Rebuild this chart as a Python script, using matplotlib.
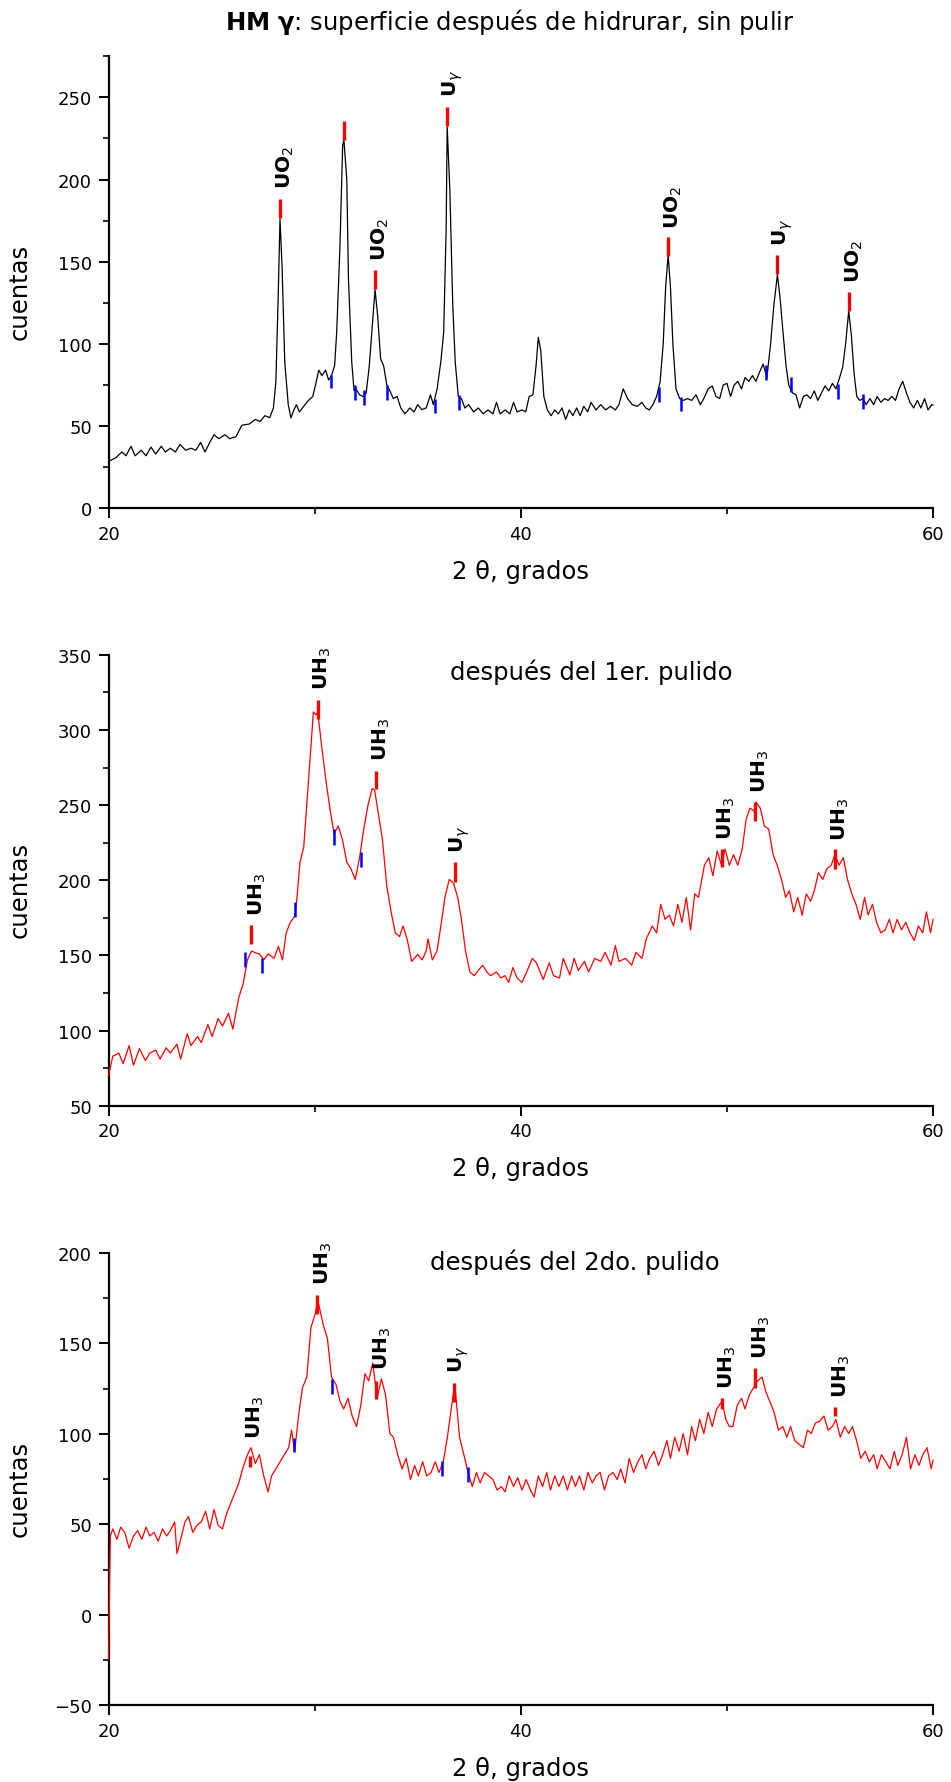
import matplotlib
matplotlib.use("Agg")
import matplotlib.pyplot as plt
from matplotlib.ticker import MultipleLocator

plt.rcParams['font.family'] = ['DejaVu Sans']
plt.rcParams['mathtext.fontset'] = 'dejavusans'

# ---------------- panel 1: sin pulir (black trace) ----------------
tt1 = [20.0, 20.35, 20.65, 20.85, 21.09, 21.29, 21.59, 21.82, 22.06, 22.29, 22.56, 22.76, 23.0, 23.24, 23.47, 23.74,
       24.0, 24.24, 24.47, 24.68, 24.91, 25.12, 25.35, 25.65, 25.88, 26.18, 26.47, 26.82, 27.12, 27.35, 27.59, 27.82,
       28.0, 28.12, 28.24, 28.32, 28.42, 28.55, 28.72, 28.85, 29.0, 29.12, 29.26, 29.47, 29.7, 29.91, 30.06, 30.2,
       30.35, 30.53, 30.68, 30.82, 30.97, 31.07, 31.23, 31.36, 31.42, 31.56, 31.64, 31.8, 31.91, 32.0, 32.18, 32.35,
       32.5, 32.65, 32.79, 32.93, 33.06, 33.2, 33.35, 33.5, 33.65, 33.82, 34.0, 34.18, 34.38, 34.62, 34.82, 35.0,
       35.2, 35.41, 35.62, 35.76, 35.94, 36.12, 36.26, 36.38, 36.43, 36.56, 36.7, 36.82, 36.97, 37.12, 37.29, 37.47,
       37.71, 37.94, 38.18, 38.41, 38.65, 38.82, 39.0, 39.24, 39.47, 39.65, 39.82, 40.06, 40.24, 40.41, 40.59, 40.74,
       40.85, 40.97, 41.12, 41.29, 41.47, 41.65, 41.82, 42.0, 42.18, 42.35, 42.53, 42.71, 42.88, 43.06, 43.24, 43.41,
       43.65, 43.88, 44.12, 44.35, 44.59, 44.76, 44.97, 45.18, 45.41, 45.65, 45.88, 46.06, 46.24, 46.41, 46.59, 46.76,
       46.91, 47.03, 47.15, 47.26, 47.38, 47.53, 47.71, 47.88, 48.09, 48.29, 48.5, 48.71, 48.88, 49.09, 49.29, 49.47,
       49.65, 49.82, 50.0, 50.18, 50.35, 50.53, 50.71, 50.88, 51.06, 51.24, 51.41, 51.59, 51.76, 51.94, 52.12, 52.28,
       52.45, 52.58, 52.72, 52.87, 53.0, 53.18, 53.35, 53.53, 53.71, 53.88, 54.06, 54.24, 54.41, 54.59, 54.76, 54.94,
       55.12, 55.29, 55.47, 55.62, 55.76, 55.91, 56.04, 56.17, 56.3, 56.45, 56.6, 56.76, 56.94, 57.12, 57.29, 57.47,
       57.65, 57.82, 58.0, 58.18, 58.35, 58.53, 58.71, 58.88, 59.06, 59.24, 59.41, 59.59, 59.76, 59.94, 60.0]
cts1 = [28.4, 30.7, 34.2, 31.9, 37.7, 31.9, 35.3, 31.9, 37.2, 33.0, 37.7, 34.2, 36.5, 34.2, 38.8, 35.3,
        36.5, 35.3, 40.0, 34.2, 40.0, 44.7, 42.3, 44.7, 42.3, 43.5, 50.5, 51.2, 54.0, 52.8, 56.3, 55.1,
        61, 77, 133, 176, 147, 89, 63, 55, 60, 63, 58.6, 62, 65.6, 68, 76, 84,
        80.7, 84, 78, 80.7, 86.9, 107, 160, 221, 224, 200, 140, 89, 71.7, 72.6, 69, 68,
        70, 86.5, 110, 133, 116.7, 91, 86.5, 75, 71.4, 66.7, 68, 61, 57.4, 61, 58.6, 63,
        60, 61, 69, 63, 72.6, 89, 107, 170, 232, 193.5, 124, 89, 68, 66.7, 61, 63,
        58.6, 61, 57.4, 59.8, 57.4, 64.4, 57.4, 59.8, 57.4, 64.4, 58.6, 59.8, 58.6, 68, 69, 86.5,
        104, 95.8, 68, 59.8, 56.3, 59.8, 57.4, 61, 54, 59.8, 56.3, 61, 56.3, 62, 58.6, 64.4,
        59.8, 63, 59.8, 62, 59.8, 63, 72.6, 66.7, 63, 62, 64.4, 61, 59.8, 63, 68, 77,
        100, 135, 154, 135, 100, 72.6, 66.7, 65.6, 66.7, 65.6, 69, 63, 66.7, 72.6, 74.4, 68,
        66.7, 74.9, 76, 68, 74.9, 77.2, 72.6, 79.5, 77.2, 80.7, 77.2, 83, 87.7, 79.5, 100, 123.7,
        142, 128, 107.4, 86.5, 74.9, 70.2, 69, 61, 68, 69, 66.7, 71.4, 65.6, 70.2, 74.4, 71.4,
        76, 72.6, 79.5, 86, 100, 120, 105, 81.9, 68, 65.6, 66.7, 63, 66.7, 63, 68, 64.4,
        66.7, 65.6, 68, 65.6, 72.6, 77.2, 70.2, 64.4, 61, 65.6, 61, 66.7, 59.8, 63, 62.8]

red1_x = [28.32, 31.42, 32.93, 36.43, 47.15, 52.45, 55.91]
red1_lo = [176.4, 224, 133.3, 232.7, 153.7, 142.4, 120.1]
red1_hi = [188, 235.7, 144.7, 244, 165.2, 154, 131.7]
blue1_x = [30.8, 31.98, 32.38, 33.5, 35.84, 37.0, 46.7, 47.78, 51.88, 53.1, 55.38, 56.62]
blue1_lo = [73, 65.6, 62.6, 65.6, 58, 59.5, 64.6, 58.9, 77.8, 70.7, 66.6, 60.1]
blue1_hi = [81, 75, 71.7, 75, 66.6, 68.7, 73.8, 67.7, 87.4, 79.9, 75.8, 69.7]
lab1_txt = ['UO$_2$', 'UO$_2$', 'U$_\\gamma$', 'UO$_2$', 'U$_\\gamma$', 'UO$_2$']
lab1_x = [28.32, 32.93, 36.43, 47.15, 52.45, 55.91]
lab1_y = [194.7, 151, 250.6, 170.7, 160, 137.8]

# ---------------- panel 2: 1er. pulido (red trace) ----------------
tt2 = [20.0, 20.21, 20.5, 20.71, 21.0, 21.21, 21.5, 21.79, 22.0, 22.29, 22.5, 22.79, 23.0, 23.32, 23.5, 23.82,
       24.0, 24.32, 24.5, 24.82, 25.03, 25.32, 25.53, 25.82, 26.03, 26.32, 26.53, 26.74, 26.94, 27.12, 27.32, 27.53,
       27.74, 28.03, 28.24, 28.44, 28.62, 28.82, 29.03, 29.12, 29.29, 29.47, 29.68, 29.85, 29.94, 30.06, 30.15, 30.35,
       30.56, 30.76, 30.94, 31.15, 31.35, 31.56, 31.76, 31.97, 32.18, 32.38, 32.59, 32.79, 32.91, 33.12, 33.29, 33.5,
       33.71, 33.91, 34.12, 34.29, 34.5, 34.71, 35.0, 35.21, 35.41, 35.5, 35.71, 35.94, 36.15, 36.32, 36.53, 36.74,
       36.94, 37.12, 37.32, 37.53, 37.74, 37.94, 38.15, 38.35, 38.53, 38.82, 39.03, 39.24, 39.41, 39.62, 39.82, 40.06,
       40.35, 40.56, 40.76, 41.09, 41.38, 41.59, 41.88, 42.06, 42.38, 42.59, 42.79, 43.09, 43.29, 43.59, 43.88, 44.09,
       44.38, 44.59, 44.76, 45.09, 45.38, 45.59, 45.88, 46.09, 46.38, 46.59, 46.79, 47.0, 47.21, 47.41, 47.62, 47.82,
       48.03, 48.24, 48.44, 48.62, 48.91, 49.12, 49.32, 49.53, 49.74, 49.91, 50.12, 50.32, 50.53, 50.74, 50.94, 51.12,
       51.32, 51.41, 51.62, 51.82, 52.03, 52.24, 52.44, 52.65, 52.85, 53.03, 53.24, 53.44, 53.65, 53.85, 54.06, 54.24,
       54.44, 54.65, 54.85, 55.06, 55.24, 55.44, 55.65, 55.85, 56.06, 56.26, 56.47, 56.68, 56.85, 57.06, 57.26, 57.47,
       57.68, 57.88, 58.06, 58.26, 58.47, 58.68, 58.88, 59.09, 59.29, 59.5, 59.68, 59.88, 60.0]
cts2 = [70, 83, 85, 78, 90, 77, 88, 80, 85, 87, 81, 88.5, 85, 91, 81, 98,
        90, 96, 92, 104, 96, 108, 103, 111.5, 101, 122, 131, 147, 153, 151.8, 151, 147,
        151, 148, 156, 147, 165, 172, 176, 185, 212, 222, 262, 295, 312, 310, 312, 288,
        265, 246, 231, 236, 227, 212, 207.6, 200.5, 215, 234, 250, 261, 260, 242, 227, 196,
        179, 165, 162.5, 169.6, 160, 146, 150.6, 147, 153, 161, 147, 153, 172, 188.6, 200.5, 198,
        188.6, 174, 153, 139, 136.5, 140, 143.5, 139, 136.5, 139, 135, 136.5, 132, 142, 135, 132,
        141, 148, 145, 134, 145, 136.5, 135, 148, 137, 148, 140, 146, 139, 148, 146, 152,
        143.5, 156.6, 146, 148, 143.5, 152, 148, 161, 169.6, 165, 184, 174, 176.8, 169.6, 184, 172,
        188.6, 167, 191, 188.6, 210, 215, 203, 219.5, 210, 220.7, 210, 217, 210, 220.7, 241, 248,
        246, 252, 248, 236, 234, 217, 210, 200.5, 188.6, 193, 179, 188.6, 176.8, 191, 186, 193,
        205, 200.5, 207.6, 210, 217, 210, 215, 200.5, 191, 184, 174, 188.6, 177, 184, 172, 165,
        167, 174, 165, 174, 167, 172, 165, 160, 169.6, 165, 179, 165, 174]

red2_x = [26.91, 30.15, 32.98, 36.8, 49.75, 51.37, 55.25]
red2_lo = [157.5, 307, 260.6, 198.6, 208.5, 239.6, 207.4]
red2_hi = [170.2, 320, 272.8, 211.9, 221, 252, 220.7]
blue2_x = [26.62, 27.45, 29.05, 30.94, 32.24]
blue2_lo = [142.4, 138, 175.3, 223.4, 209]
blue2_hi = [152, 148, 185.3, 234, 219]
lab2_txt = ['UH$_3$', 'UH$_3$', 'UH$_3$', 'U$_\\gamma$', 'UH$_3$', 'UH$_3$', 'UH$_3$']
lab2_x = [26.95, 30.12, 32.95, 36.75, 49.7, 51.37, 55.22]
lab2_y = [176.8, 327, 280, 218.5, 227.4, 258.8, 227]

# ---------------- panel 3: 2do. pulido (red trace) ----------------
tt3 = [20.0, 20.09, 20.21, 20.41, 20.59, 20.79, 21.0, 21.21, 21.41, 21.62, 21.82, 22.0, 22.21, 22.41, 22.62, 22.82,
       23.0, 23.21, 23.32, 23.5, 23.71, 23.88, 24.09, 24.29, 24.5, 24.71, 24.91, 25.12, 25.32, 25.53, 25.71, 25.91,
       26.12, 26.32, 26.53, 26.74, 26.91, 27.12, 27.32, 27.53, 27.74, 27.91, 28.12, 28.32, 28.53, 28.74, 28.88, 29.03,
       29.24, 29.41, 29.62, 29.82, 30.03, 30.15, 30.41, 30.62, 30.82, 31.03, 31.24, 31.41, 31.62, 31.82, 32.03, 32.24,
       32.44, 32.62, 32.82, 33.03, 33.24, 33.44, 33.65, 33.82, 34.03, 34.24, 34.44, 34.65, 34.85, 35.03, 35.24, 35.44,
       35.65, 35.85, 36.03, 36.24, 36.44, 36.65, 36.8, 37.03, 37.24, 37.44, 37.65, 37.85, 38.03, 38.24, 38.44, 38.65,
       38.85, 39.06, 39.24, 39.44, 39.65, 39.85, 40.06, 40.26, 40.47, 40.65, 40.85, 41.06, 41.26, 41.44, 41.65, 41.85,
       42.06, 42.26, 42.47, 42.65, 42.85, 43.06, 43.26, 43.47, 43.65, 43.85, 44.06, 44.26, 44.47, 44.68, 44.85, 45.06,
       45.26, 45.47, 45.68, 45.88, 46.06, 46.26, 46.47, 46.68, 46.88, 47.09, 47.26, 47.47, 47.68, 47.88, 48.09, 48.29,
       48.47, 48.68, 48.88, 49.09, 49.29, 49.5, 49.76, 49.95, 50.12, 50.29, 50.5, 50.71, 50.88, 51.09, 51.29, 51.5,
       51.71, 51.88, 52.09, 52.29, 52.5, 52.71, 52.91, 53.09, 53.29, 53.5, 53.71, 53.91, 54.09, 54.29, 54.5, 54.71,
       54.91, 55.12, 55.29, 55.5, 55.71, 55.91, 56.09, 56.29, 56.5, 56.71, 56.91, 57.12, 57.29, 57.5, 57.71, 57.91,
       58.12, 58.29, 58.5, 58.71, 58.91, 59.12, 59.32, 59.5, 59.71, 59.91, 60.0]
cts3 = [-24.6, 43.6, 47.5, 41.7, 48.5, 45.6, 36.8, 43.6, 46.5, 41.7, 48.5, 43.6, 45.6, 40.7, 47.5, 43.6,
        46.5, 51.4, 33.9, 41.7, 51.4, 54.3, 45.6, 49.5, 51.4, 57.3, 47.5, 58.2, 49.5, 47.5, 55.3, 61.2,
        67.0, 72.9, 81.6, 88.5, 92.4, 83.6, 88.5, 76.8, 68.0, 76.8, 80.7, 84.6, 88.5, 92.4, 102.1, 90.4,
        111.9, 125.5, 131.4, 158.7, 166.5, 174, 160.6, 152.8, 131.4, 127.5, 117.7, 113.8, 119.7, 109.9, 104.1, 115.8,
        133.3, 129.4, 139.2, 119.7, 130.4, 121.6, 100.2, 98.2, 88.5, 80.7, 86.5, 74.8, 82.6, 76.8, 84.6, 76.8,
        78.7, 84.6, 78.7, 84.6, 98.2, 115.8, 127.5, 98.2, 88.5, 78.7, 70.9, 78.7, 72.9, 78.7, 76.8, 74.8,
        69.0, 70.9, 68.0, 76.8, 70.9, 75.8, 69.0, 74.8, 69.0, 65.1, 76.8, 70.9, 78.7, 69.0, 76.8, 70.9,
        76.8, 69.0, 76.8, 70.9, 76.8, 69.0, 78.7, 72.9, 76.8, 78.7, 69.0, 76.8, 78.7, 74.8, 80.7, 72.9,
        86.5, 78.7, 84.6, 88.5, 80.7, 86.5, 90.4, 82.6, 88.5, 96.3, 86.5, 98.2, 90.4, 100.2, 88.5, 104.1,
        96.3, 108.0, 100.2, 111.9, 104.1, 113.8, 118, 108.0, 104.1, 104.1, 115.8, 119.7, 113.8, 121.6, 125.5, 129.4,
        131.4, 123.6, 117.7, 111.9, 102.1, 104.1, 98.2, 104.1, 96.3, 94.3, 92.4, 102.1, 100.2, 106.0, 107.0, 109.9,
        102.1, 104.1, 108.0, 98.2, 104.1, 100.2, 104.1, 96.3, 86.5, 90.4, 84.6, 88.5, 80.7, 88.5, 84.6, 80.7,
        90.4, 82.6, 88.5, 98.2, 80.7, 88.5, 82.6, 88.5, 92.4, 80.7, 85.5]

red3_x = [26.87, 30.13, 32.98, 36.78, 49.76, 51.38, 55.26]
red3_lo = [81.5, 166.3, 119.2, 117.8, 113.8, 125.5, 109.9]
red3_hi = [87.9, 176.8, 129.4, 128, 120, 136.2, 114.8]
blue3_x = [29.02, 30.86, 36.17, 37.43]
blue3_lo = [89.8, 122, 76.8, 73.2]
blue3_hi = [98, 130.3, 85.1, 81.5]
lab3_txt = ['UH$_3$', 'UH$_3$', 'UH$_3$', 'U$_\\gamma$', 'UH$_3$', 'UH$_3$', 'UH$_3$']
lab3_x = [26.87, 30.17, 33.0, 36.73, 49.76, 51.38, 55.26]
lab3_y = [98, 182.9, 135.8, 134, 125.5, 142, 120.6]


def style_axes(ax, ymin, ymax):
    ax.set_xlim(20, 60)
    ax.set_ylim(ymin, ymax)
    for s in ['top', 'right']:
        ax.spines[s].set_visible(False)
    for s in ['left', 'bottom']:
        ax.spines[s].set_linewidth(1.6)
    ax.xaxis.set_major_locator(MultipleLocator(20))
    ax.xaxis.set_minor_locator(MultipleLocator(10))
    ax.yaxis.set_major_locator(MultipleLocator(50))
    ax.yaxis.set_minor_locator(MultipleLocator(25))
    ax.tick_params(which='major', length=7, width=1.4, labelsize=13, pad=5)
    ax.tick_params(which='minor', length=4, width=1.2)
    ax.set_xlabel('2 θ, grados', fontsize=17.5)
    ax.set_ylabel('cuentas', fontsize=17.5)
    ax.xaxis.set_label_coords(0.5, -0.112)
    ax.yaxis.set_label_coords(-0.093, 0.48)


def draw_panel(ax, tt, cts, color, rx, rlo, rhi, bx, blo, bhi, labs, lx, ly):
    ax.plot(tt, cts, color=color, lw=0.9, zorder=3, clip_on=False)
    ax.vlines(rx, rlo, rhi, colors='#ff0000', lw=2.4, zorder=4)
    ax.vlines(bx, blo, bhi, colors='#0000ff', lw=1.8, zorder=4)
    for t, x, y in zip(labs, lx, ly):
        ax.annotate(t, (x, y), xytext=(4, 0), textcoords='offset points',
                    rotation=90, ha='center', va='bottom', fontsize=14.5, fontweight='bold')


fig = plt.figure(figsize=(9.51, 17.83), dpi=100)
ax1 = fig.add_axes([0.1141, 0.7144, 0.867, 0.2535])
ax2 = fig.add_axes([0.1141, 0.3793, 0.867, 0.2529])
ax3 = fig.add_axes([0.1141, 0.0430, 0.867, 0.2537])

draw_panel(ax1, tt1, cts1, 'black', red1_x, red1_lo, red1_hi, blue1_x, blue1_lo, blue1_hi, lab1_txt, lab1_x, lab1_y)
style_axes(ax1, 0, 275)

draw_panel(ax2, tt2, cts2, '#ff0000', red2_x, red2_lo, red2_hi, blue2_x, blue2_lo, blue2_hi, lab2_txt, lab2_x, lab2_y)
style_axes(ax2, 50, 350)
ax2.text(43.4, 339, 'después del 1er. pulido', ha='center', va='center', fontsize=17.5)

draw_panel(ax3, tt3, cts3, '#ff0000', red3_x, red3_lo, red3_hi, blue3_x, blue3_lo, blue3_hi, lab3_txt, lab3_x, lab3_y)
style_axes(ax3, -50, 200)
ax3.text(42.6, 195.7, 'después del 2do. pulido', ha='center', va='center', fontsize=17.5)

fig.text(0.2366, 0.9878, r'$\mathbf{HM\ \gamma}$: superficie después de hidrurar, sin pulir',
         ha='left', va='center', fontsize=17.5)

fig.savefig('out.png', dpi=100)
